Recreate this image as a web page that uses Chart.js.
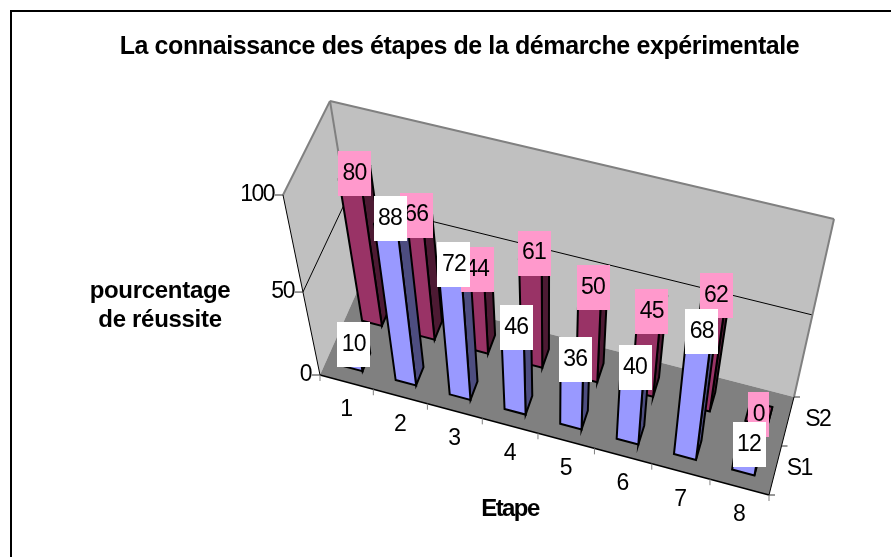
<!DOCTYPE html>
<html><head><meta charset="utf-8">
<style>html,body{margin:0;padding:0;background:#fff}#w{width:891px;height:557px}canvas{display:block}</style>
<script src="https://cdn.jsdelivr.net/npm/chart.js@4"></script></head>
<body><div id="w"><canvas id="c" width="891" height="557"></canvas></div>
<script>
const categories = ['1','2','3','4','5','6','7','8'];
const seriesS1 = [10,88,72,46,36,40,68,12];
const seriesS2 = [80,66,44,61,50,45,62,0];
const yTicks = [0,50,100];
const seriesNames = ['S1','S2'];
const titleText = 'La connaissance des étapes de la démarche expérimentale';
const yTitle = ['pourcentage','de réussite'];
const xTitle = 'Etape';

// screen corners of the 3D box: [depth front/back][bottom/top][left/right]
const cube = {
  fbl:[320,375], fbr:[769,495], ftl:[283,195], ftr:[803,313],
  bbl:[360,285], bbr:[794,397], btl:[330,101], btr:[834,219]
};
const warp = (t,w)=>t/(t+(1-t)*w);
function P(u,v,d){
  const a=warp(u,1.06), b=warp(v,1.17), c=cube, o=[0,0];
  for(let i=0;i<2;i++){
    const f0=c.fbl[i]*(1-a)+c.fbr[i]*a, f1=c.ftl[i]*(1-a)+c.ftr[i]*a;
    const k0=c.bbl[i]*(1-a)+c.bbr[i]*a, k1=c.btl[i]*(1-a)+c.btr[i]*a;
    const f=f0*(1-b)+f1*b, k=k0*(1-b)+k1*b;
    o[i]=f*(1-d)+k*d;
  }
  return o;
}
function poly(ctx,pts,fill,stroke,lw){
  ctx.beginPath();pts.forEach((p,i)=>i?ctx.lineTo(p[0],p[1]):ctx.moveTo(p[0],p[1]));
  ctx.closePath();
  if(fill){ctx.fillStyle=fill;ctx.fill();}
  if(stroke){ctx.strokeStyle=stroke;ctx.lineWidth=lw;ctx.stroke();}
}
function line(ctx,a,b,col,lw){ctx.beginPath();ctx.moveTo(a[0],a[1]);ctx.lineTo(b[0],b[1]);ctx.strokeStyle=col;ctx.lineWidth=lw;ctx.stroke();}
function text(ctx,s,x,y,font,align,sp){ctx.font=font;ctx.textAlign=align||'center';ctx.textBaseline='middle';ctx.letterSpacing=(sp||0)+'px';ctx.fillStyle='#000';ctx.fillText(s,x,y);}
const depths=[[0.15,0.35],[0.65,0.85]];
const skins=[
 {front:'#9999FF',side:'#4D4D80',top:'#9999FF',label:'#FFFFFF'},
 {front:'#993366',side:'#4D1A33',top:'#993366',label:'#FF99CC'}
];
const NUM='23px "Liberation Sans"';
const BOLD='bold 24px "Liberation Sans"';

const plugin3d={
 id:'box3d',
 beforeDraw(chart){chart.ctx.letterSpacing='-0.4px';},
 beforeDatasetsDraw(chart){
  const ctx=chart.ctx,xs=chart.scales.x,ys=chart.scales.y;
  const L=xs.left,W=xs.right-xs.left,y0=ys.getPixelForValue(0),yh=ys.getPixelForValue(100);
  const U=px=>(px-L)/W, V=py=>(y0-py)/(y0-yh);
  ctx.save();ctx.lineJoin='miter';
  // walls and floor
  poly(ctx,[P(0,0,0),P(0,1,0),P(0,1,1),P(0,0,1)],'#C0C0C0');
  poly(ctx,[P(0,0,1),P(0,1,1),P(1,1,1),P(1,0,1)],'#C0C0C0');
  poly(ctx,[P(0,0,0),P(1,0,0),P(1,0,1),P(0,0,1)],'#808080');
  // gridlines
  yTicks.filter(t=>t>0&&t<100).forEach(t=>{
    const v=V(ys.getPixelForValue(t));
    line(ctx,P(0,v,0),P(0,v,1),'#000',1);line(ctx,P(0,v,1),P(1,v,1),'#000',1);
  });
  // edges
  line(ctx,P(0,1,0),P(0,1,1),'#808080',2);
  line(ctx,P(0,1,1),P(1,1,1),'#808080',2);
  line(ctx,P(1,1,1),P(1,0,1),'#808080',2);
  line(ctx,P(0,1,1),P(0,0,1),'#808080',2);
  line(ctx,P(0,0,0),P(0,1,0),'#000',1);
  line(ctx,P(0,0,0),P(1,0,0),'#000',1.5);
  line(ctx,P(1,0,0),P(1,0,1),'#000',1);
  // tick marks and axis labels
  yTicks.forEach(t=>{
    const p=P(0,V(ys.getPixelForValue(t)),0);
    line(ctx,[p[0]-8,p[1]],p,'#333',1);
    text(ctx,String(t),p[0]-9,p[1],NUM,'right',-1.5);
  });
  categories.forEach((c,i)=>{
    const a=P(i/categories.length,0,0);
    line(ctx,a,[a[0],a[1]+6],'#808080',1);
    const m=P(U(xs.getPixelForValue(i)),0,0);
    text(ctx,c,m[0],m[1]+28,NUM,'center',0);
  });
  const e=P(1,0,0);line(ctx,e,[e[0],e[1]+6],'#808080',1);
  [0,.5,1].forEach(d=>{const a=P(1,0,d);line(ctx,a,[a[0]+6,a[1]],'#333',1);});
  seriesNames.forEach((s,k)=>{
    const d=(depths[k][0]+depths[k][1])/2, m=P(1,0,d);
    text(ctx,s,m[0]+24+k*6,m[1]-2,NUM,'center',-1.5);
  });
  text(ctx,yTitle[0],160,291,BOLD,'center',-0.3);
  text(ctx,yTitle[1],160,320,BOLD,'center',-0.3);
  text(ctx,xTitle,510,509,BOLD,'center',-1.6);
  // bars, back series first
  const labels=[];
  [1,0].forEach(k=>{
    const meta=chart.getDatasetMeta(k),[d0,d1]=depths[k],sk=skins[k];
    meta.data.forEach((bar,i)=>{
      const p=bar.getProps(['x','y','base','width']);
      const u0=U(p.x-p.width/2),u1=U(p.x+p.width/2),v=V(p.y);
      poly(ctx,[P(u1,0,d0),P(u1,0,d1),P(u1,v,d1),P(u1,v,d0)],sk.side,'#000',2);
      poly(ctx,[P(u0,0,d0),P(u1,0,d0),P(u1,v,d0),P(u0,v,d0)],sk.front,'#000',2);
      poly(ctx,[P(u0,v,d0),P(u1,v,d0),P(u1,v,d1),P(u0,v,d1)],sk.top,'#000',2);
      labels.push({k,i,p:P(U(p.x),v,(d0+d1)/2)});
    });
  });
  // value labels: back series first so the front series covers it
  labels.forEach(l=>{
    const val=String(chart.data.datasets[l.k].data[l.i]);
    const bw=val.length>1?33:21;
    ctx.fillStyle=skins[l.k].label;
    ctx.fillRect(Math.round(l.p[0]-bw/2),Math.round(l.p[1]-21.5),bw,45);
    text(ctx,val,l.p[0],l.p[1]+1,NUM,'center',-0.8);
  });
  // outer frame: top and left only
  ctx.fillStyle='#000';ctx.fillRect(10,10,881,2);ctx.fillRect(10,10,2,547);
  ctx.restore();
  ctx.letterSpacing='-0.4px';
  return false;
 }
};
new Chart(document.getElementById('c'),{
 type:'bar',
 data:{labels:categories,datasets:[
  {label:seriesNames[0],data:seriesS1,backgroundColor:'#9999FF',grouped:false,barPercentage:.38,categoryPercentage:1},
  {label:seriesNames[1],data:seriesS2,backgroundColor:'#993366',grouped:false,barPercentage:.38,categoryPercentage:1}
 ]},
 options:{responsive:false,animation:false,
  layout:{padding:{left:28}},
  scales:{x:{display:false},y:{display:false,min:0,max:100}},
  plugins:{legend:{display:false},tooltip:{enabled:false},
   title:{display:true,text:titleText,color:'#000',font:{family:'"Liberation Sans"',size:25,weight:'bold'},padding:{top:32,bottom:8}}}
 },
 plugins:[plugin3d]
});
</script></body></html>
